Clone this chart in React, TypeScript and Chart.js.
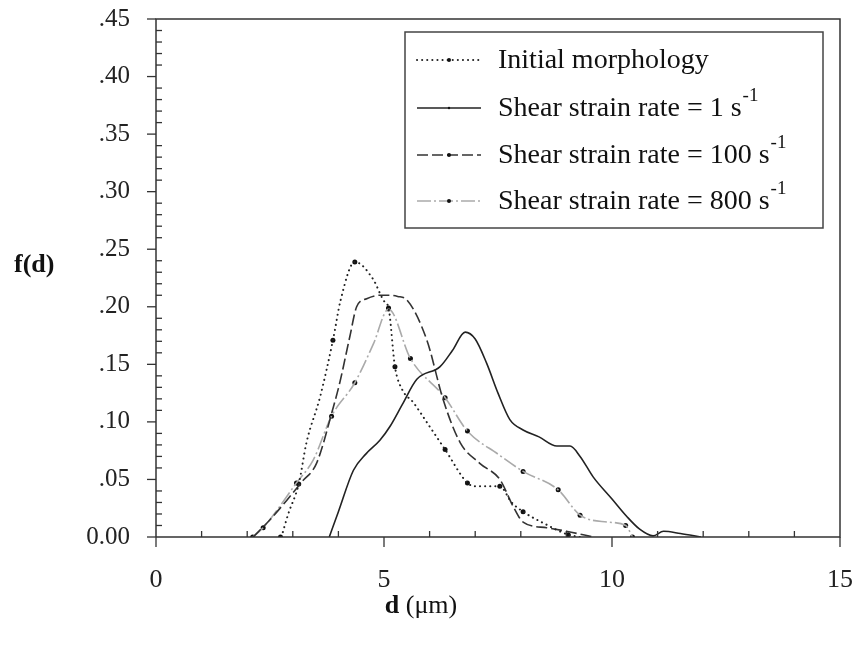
import React, { useEffect, useRef } from "react";
import { Chart, registerables } from "chart.js";
Chart.register(...registerables);

// ---- data ----
const xTickValues = [0, 5, 10, 15];
const yTickLabels = ["0.00", ".05", ".10", ".15", ".20", ".25", ".30", ".35", ".40", ".45"];

const legendLabels = [
  "Initial morphology",
  "Shear strain rate = 1 s",
  "Shear strain rate = 100 s",
  "Shear strain rate = 800 s",
];

// Initial morphology (dotted)
const initialD = [2.75, 2.9, 3.13, 3.3, 3.6, 3.88, 4.05, 4.36, 4.76, 5.0, 5.1, 5.24, 5.4, 5.64, 6.0, 6.34, 6.83, 7.0, 7.54, 7.8, 8.05, 8.5, 9.04, 9.3];
const initialF = [0.0, 0.02, 0.046, 0.082, 0.122, 0.171, 0.206, 0.239, 0.224, 0.205, 0.199, 0.148, 0.128, 0.117, 0.096, 0.076, 0.047, 0.044, 0.044, 0.03, 0.022, 0.012, 0.002, 0.0];
const initialMarkD = [2.73, 3.13, 3.88, 4.36, 5.1, 5.24, 6.34, 6.83, 7.54, 8.05, 9.04];
const initialMarkF = [0.0, 0.046, 0.171, 0.239, 0.199, 0.148, 0.076, 0.047, 0.044, 0.022, 0.002];

// Shear strain rate = 1 s^-1 (solid)
const rate1D = [3.8, 4.0, 4.33, 4.6, 4.91, 5.13, 5.4, 5.72, 6.23, 6.5, 6.78, 7.0, 7.25, 7.5, 7.76, 8.05, 8.4, 8.79, 9.08, 9.3, 9.59, 10.0, 10.32, 10.6, 10.9, 11.13, 11.5, 11.95];
const rate1F = [0.0, 0.022, 0.058, 0.072, 0.084, 0.096, 0.115, 0.137, 0.148, 0.162, 0.178, 0.172, 0.151, 0.125, 0.102, 0.093, 0.087, 0.079, 0.079, 0.07, 0.052, 0.033, 0.018, 0.007, 0.001, 0.005, 0.003, 0.0];

// Shear strain rate = 100 s^-1 (dashed)
const rate100D = [2.13, 2.5, 2.87, 3.2, 3.52, 3.89, 4.03, 4.25, 4.4, 4.62, 4.91, 5.13, 5.3, 5.5, 5.94, 6.3, 6.67, 7.1, 7.54, 7.84, 8.05, 8.57, 9.0, 9.59];
const rate100F = [0.0, 0.015, 0.032, 0.048, 0.064, 0.113, 0.134, 0.174, 0.2, 0.207, 0.21, 0.21, 0.209, 0.206, 0.171, 0.119, 0.082, 0.064, 0.05, 0.026, 0.013, 0.008, 0.005, 0.0];

// Shear strain rate = 800 s^-1 (grey, with markers)
const rate800D = [2.12, 2.35, 3.08, 3.45, 3.85, 4.36, 4.77, 5.1, 5.58, 6.34, 6.83, 7.5, 8.05, 8.82, 9.3, 9.9, 10.3, 10.45];
const rate800F = [0.0, 0.008, 0.047, 0.067, 0.105, 0.134, 0.168, 0.198, 0.155, 0.121, 0.092, 0.072, 0.057, 0.041, 0.019, 0.013, 0.01, 0.0];
const rate800MarkD = [2.12, 2.35, 3.08, 3.85, 4.36, 5.1, 5.58, 6.34, 6.83, 8.05, 8.82, 9.3, 10.3, 10.45];
const rate800MarkF = [0.0, 0.008, 0.047, 0.105, 0.134, 0.198, 0.155, 0.121, 0.092, 0.057, 0.041, 0.019, 0.01, 0.0];

const pts = (xs: number[], ys: number[]) => xs.map((x, i) => ({ x, y: ys[i] }));

const SERIF = "'Liberation Serif', 'DejaVu Serif', serif";
const AXIS = "#333";

const decorPlugin = {
  id: "decor",
  afterDraw(chart: any) {
    const ctx: CanvasRenderingContext2D = chart.ctx;
    const { left, right, top, bottom } = chart.chartArea;
    const xs = chart.scales.x;
    const ys = chart.scales.y;
    ctx.save();
    ctx.strokeStyle = AXIS;
    ctx.lineWidth = 1.5;
    // frame
    ctx.beginPath();
    ctx.moveTo(left, bottom);
    ctx.lineTo(left, top);
    ctx.lineTo(right, top);
    ctx.lineTo(right, bottom);
    ctx.lineTo(left, bottom);
    ctx.stroke();
    // x ticks
    ctx.lineWidth = 1.3;
    for (let v = 0; v <= 15; v += 1) {
      const px = xs.getPixelForValue(v);
      ctx.beginPath();
      if (v % 5 === 0) {
        ctx.moveTo(px, bottom);
        ctx.lineTo(px, bottom + 10);
      } else {
        ctx.moveTo(px, bottom);
        ctx.lineTo(px, bottom - 6);
      }
      ctx.stroke();
    }
    // y ticks
    for (let i = 0; i <= 45; i++) {
      const py = ys.getPixelForValue(i / 100);
      ctx.beginPath();
      if (i % 5 === 0) {
        ctx.moveTo(left - 9, py);
        ctx.lineTo(left, py);
      } else {
        ctx.moveTo(left, py);
        ctx.lineTo(left + 6, py);
      }
      ctx.stroke();
    }
    // axis titles
    ctx.fillStyle = "#111";
    ctx.textBaseline = "middle";
    ctx.textAlign = "left";
    ctx.font = `bold 26px ${SERIF}`;
    ctx.fillText("f(d)", 14, 265);
    const t1 = "d ";
    const t2 = "(\u03bcm)";
    ctx.font = `bold 26px ${SERIF}`;
    const w1 = ctx.measureText(t1).width;
    ctx.font = `26px ${SERIF}`;
    const w2 = ctx.measureText(t2).width;
    const cx = 421;
    const sx = cx - (w1 + w2) / 2;
    ctx.font = `bold 26px ${SERIF}`;
    ctx.fillText(t1, sx, 606);
    ctx.font = `26px ${SERIF}`;
    ctx.fillText(t2, sx + w1, 606);

    // legend
    const bx = 405, by = 32, bw = 418, bh = 196;
    ctx.fillStyle = "#fff";
    ctx.fillRect(bx, by, bw, bh);
    ctx.strokeStyle = "#444";
    ctx.lineWidth = 1.5;
    ctx.strokeRect(bx, by, bw, bh);
    const rows = [60, 108, 155, 201];
    const styles = chart.data.datasets.filter((d: any) => d.isCurve);
    rows.forEach((ry, i) => {
      const ds = styles[i];
      ctx.save();
      ctx.strokeStyle = ds.borderColor;
      ctx.lineWidth = ds.borderWidth;
      ctx.setLineDash(ds.borderDash || []);
      ctx.lineCap = ds.borderCapStyle || "butt";
      ctx.beginPath();
      ctx.moveTo(417, ry);
      ctx.lineTo(481, ry);
      ctx.stroke();
      ctx.restore();
      ctx.fillStyle = "#111";
      ctx.beginPath();
      ctx.arc(449, ry, i === 1 ? 1.2 : 2, 0, Math.PI * 2);
      ctx.fill();
      ctx.fillStyle = "#111";
      ctx.font = `28px ${SERIF}`;
      ctx.textBaseline = "middle";
      ctx.fillText(legendLabels[i], 498, ry + 1);
      if (i > 0) {
        const w = ctx.measureText(legendLabels[i]).width;
        ctx.font = `19px ${SERIF}`;
        ctx.fillText("-1", 498 + w + 1, ry - 12);
      }
    });
    ctx.restore();
  },
};

export default function App() {
  const ref = useRef<HTMLCanvasElement | null>(null);
  useEffect(() => {
    if (!ref.current) return;
    const chart = new Chart(ref.current, {
      type: "line",
      data: {
        datasets: [
          {
            label: legendLabels[0],
            isCurve: true,
            data: pts(initialD, initialF),
            borderColor: "#222",
            borderWidth: 2,
            borderDash: [0.1, 5],
            borderCapStyle: "round",
            pointRadius: 0,
            cubicInterpolationMode: "monotone",
          } as any,
          {
            label: legendLabels[1],
            isCurve: true,
            data: pts(rate1D, rate1F),
            borderColor: "#222",
            borderWidth: 1.6,
            pointRadius: 0,
            cubicInterpolationMode: "monotone",
          } as any,
          {
            label: legendLabels[2],
            isCurve: true,
            data: pts(rate100D, rate100F),
            borderColor: "#333",
            borderWidth: 1.6,
            borderDash: [11, 4],
            pointRadius: 0,
            cubicInterpolationMode: "monotone",
          } as any,
          {
            label: legendLabels[3],
            isCurve: true,
            data: pts(rate800D, rate800F),
            borderColor: "#aaa",
            borderWidth: 1.6,
            borderDash: [14, 3, 2, 3],
            pointRadius: 0,
            cubicInterpolationMode: "monotone",
          } as any,
          {
            label: "initial markers",
            data: pts(initialMarkD, initialMarkF),
            showLine: false,
            pointRadius: 2.5,
            pointBackgroundColor: "#111",
            pointBorderWidth: 0,
          } as any,
          {
            label: "800 markers",
            data: pts(rate800MarkD, rate800MarkF),
            showLine: false,
            pointRadius: 2.5,
            pointBackgroundColor: "#111",
            pointBorderWidth: 0,
          } as any,
        ],
      },
      options: {
        responsive: false,
        animation: false,
        devicePixelRatio: 1,
        layout: { padding: { left: 0, right: 17, top: 19, bottom: 0 } },
        plugins: { legend: { display: false }, tooltip: { enabled: false } },
        scales: {
          x: {
            type: "linear",
            min: 0,
            max: 15,
            afterFit: (s: any) => {
              s.height = 108;
              s.paddingLeft = 0;
              s.paddingRight = 0;
              s.paddingTop = 0;
              s.paddingBottom = 0;
            },
            afterBuildTicks: (s: any) => { s.ticks = xTickValues.map((v) => ({ value: v })); },
            grid: { display: false, drawTicks: false },
            border: { display: false },
            ticks: {
              padding: 28,
              color: "#222",
              font: { family: SERIF, size: 26 },
              maxRotation: 0,
            },
          },
          y: {
            type: "linear",
            min: 0,
            max: 0.45,
            afterFit: (s: any) => {
              s.width = 156;
              s.paddingLeft = 0;
              s.paddingRight = 0;
              s.paddingTop = 0;
              s.paddingBottom = 0;
            },
            afterBuildTicks: (s: any) => { s.ticks = yTickLabels.map((_, i) => ({ value: i * 0.05 })); },
            grid: { display: false, drawTicks: false },
            border: { display: false },
            ticks: {
              padding: 26,
              color: "#222",
              font: { family: SERIF, size: 25 },
              callback: (v: any) => yTickLabels[Math.round(Number(v) / 0.05)],
            },
          },
        },
      },
      plugins: [decorPlugin],
    });
    return () => chart.destroy();
  }, []);
  return (
    <div style={{ position: "fixed", left: 0, top: 0, width: 857, height: 645, background: "#fff" }}>
      <canvas ref={ref} width={857} height={645} />
    </div>
  );
}
